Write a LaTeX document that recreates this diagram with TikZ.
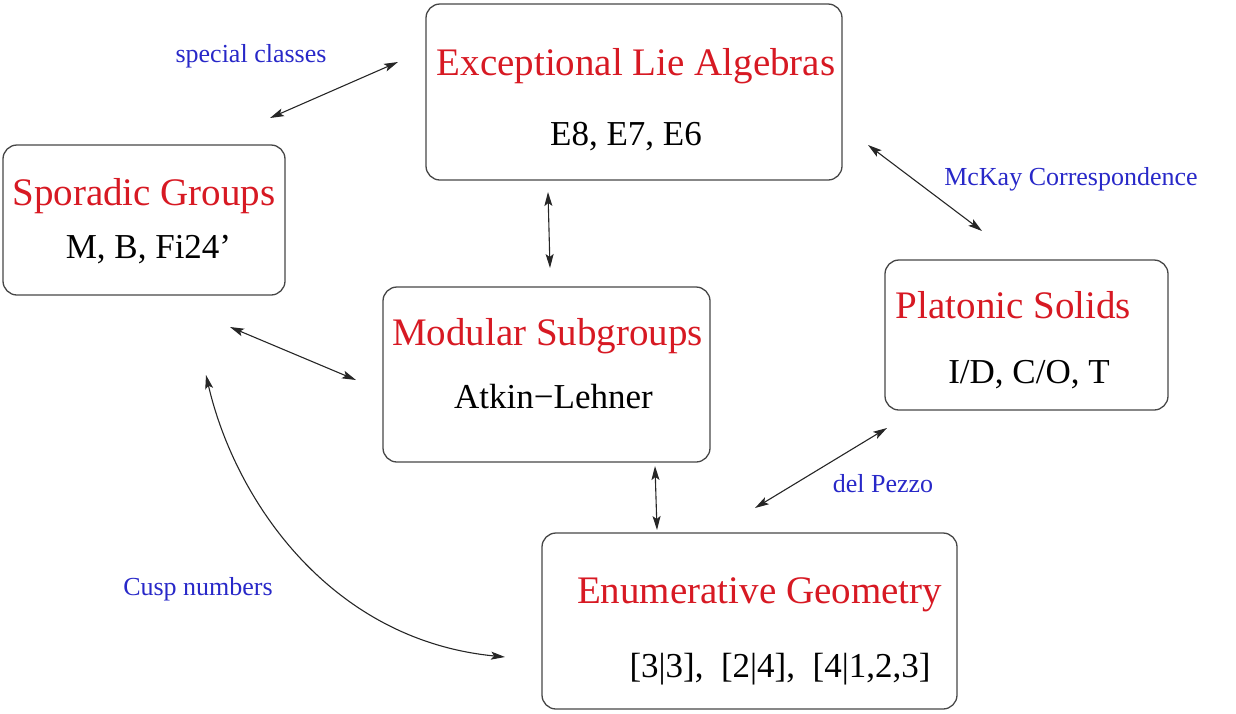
\documentclass[tikz,border=0pt]{standalone}
\usepackage{fontspec}
\setmainfont{Liberation Serif}
\usetikzlibrary{arrows.meta}
\definecolor{tred}{RGB}{215,25,35}
\definecolor{tblue}{RGB}{40,40,200}
\definecolor{edge}{RGB}{70,70,70}
\begin{document}
\begin{tikzpicture}[x=1pt,y=-1pt,
  box/.style={draw=edge, line width=1.3pt, rounded corners=14pt, inner sep=0pt},
  ttl/.style={text=tred, font=\fontsize{39}{44}\selectfont, anchor=base, inner sep=0pt},
  sub/.style={text=black, font=\fontsize{35}{40}\selectfont, anchor=base, inner sep=0pt},
  lbl/.style={text=tblue, font=\fontsize{26}{30}\selectfont, anchor=base, inner sep=0pt},
  link/.style={line width=1.1pt, draw=black!85,
    {Stealth[length=14pt,width=8pt,inset=3pt]}-{Stealth[length=14pt,width=8pt,inset=3pt]}}]
\useasboundingbox (0,0) rectangle (1236,713);

% boxes
\node[box, minimum width=416pt, minimum height=176pt] (exc) at (634,92) {};
\node[box, minimum width=282pt, minimum height=150pt] (spor) at (144,220) {};
\node[box, minimum width=327pt, minimum height=175pt] (mod) at (546.5,374.5) {};
\node[box, minimum width=283pt, minimum height=150pt] (plat) at (1026.5,335) {};
\node[box, minimum width=415pt, minimum height=176pt] (enum) at (749.5,621) {};

% texts
\node[ttl] (excT) at (636,75) {Exceptional Lie Algebras};
\node[sub] (excS) at (626,145) {E8, E7, E6};
\node[ttl] (sporT) at (144,205) {Sporadic Groups};
\node[sub] (sporS) at (148.5,258) {M, B, Fi24’};
\node[ttl] (modT) at (547.5,345) {Modular Subgroups};
\node[sub] (modS) at (553.5,408) {Atkin−Lehner};
\node[ttl] (platT) at (1013.5,318) {Platonic Solids};
\node[sub] (platS) at (1029,383) {I/D, C/O, T};
\node[ttl] (enumT) at (759.5,603) {Enumerative Geometry};
\node[sub] (enumS) at (780,677) {[3|3],~~[2|4],~~[4|1,2,3]};

% labels
\node[lbl] (l1) at (251,62) {special classes};
\node[lbl] (l2) at (1071,185) {McKay Correspondence};
\node[lbl] (l3) at (883,492) {del Pezzo};
\node[lbl] (l4) at (198,595) {Cusp numbers};

% connector end points
\coordinate (a1) at (270,118); \coordinate (a2) at (398,62);
\coordinate (b1) at (868,145); \coordinate (b2) at (982,231);
\coordinate (c1) at (548,192); \coordinate (c2) at (550,268);
\coordinate (d1) at (230,327); \coordinate (d2) at (356,380);
\coordinate (e1) at (655,466); \coordinate (e2) at (657,530);
\coordinate (f1) at (755,508); \coordinate (f2) at (887,428);
\coordinate (g1) at (206,375); \coordinate (g2) at (505,657);

\draw[link] (a1) -- (a2);
\draw[link] (b1) -- (b2);
\draw[link] (c1) -- (c2);
\draw[link] (d1) -- (d2);
\draw[link] (e1) -- (e2);
\draw[link] (f1) -- (f2);
\draw[link] (g1) .. controls (235,500) and (330,640) .. (g2);
\end{tikzpicture}
\end{document}
